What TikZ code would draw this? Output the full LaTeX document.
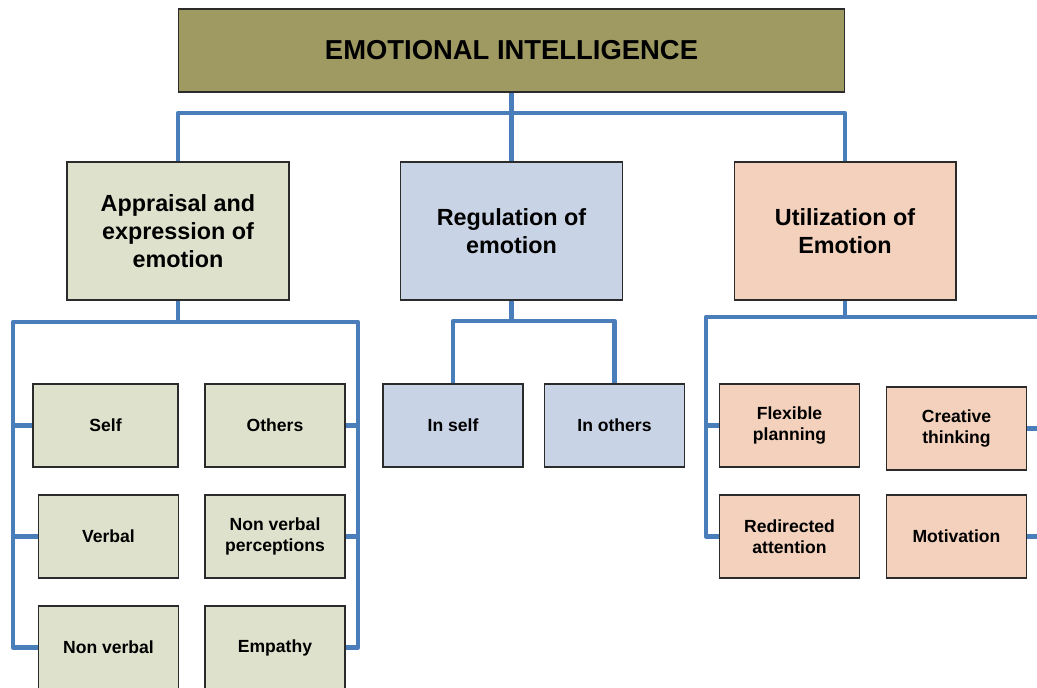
\documentclass[tikz,border=0pt]{standalone}
\usepackage{fontspec}
\setmainfont{Liberation Sans}
\usepackage{xcolor}
\definecolor{eiolive}{HTML}{9E9A62}
\definecolor{appgreen}{HTML}{DEE2CD}
\definecolor{regblue}{HTML}{C9D3E6}
\definecolor{utilpeach}{HTML}{F3D1BC}
\definecolor{linkblue}{HTML}{4A7EBB}
\definecolor{boxline}{HTML}{2B2B2B}

\tikzset{
  box/.style={draw=boxline, line width=0.6pt, align=center, inner sep=2pt},
  topbox/.style={box, fill=eiolive, minimum width=13.34cm, minimum height=1.66cm,
    font=\bfseries\fontsize{15.6}{19}\selectfont},
  mainbox/.style={box, minimum width=4.44cm, minimum height=2.76cm,
    font=\bfseries\fontsize{13.3}{16}\selectfont},
  leafbox/.style={box, minimum height=1.66cm,
    font=\bfseries\fontsize{10}{12}\selectfont},
  link/.style={linkblue, line width=2.6pt, line join=round}
}

\begin{document}
\begin{tikzpicture}[x=0.02cm, y=-0.02cm]
    \useasboundingbox (0,0) rectangle (1037,688);
    \clip (0,0) rectangle (1037,688);

    % top and second level
    \node[topbox] (ei) at (511.5,50.5) {EMOTIONAL INTELLIGENCE};
    \node[mainbox, fill=appgreen] (app) at (178,231) {Appraisal and\\expression of\\emotion};
    \node[mainbox, fill=regblue] (reg) at (511.5,231) {Regulation of\\emotion};
    \node[mainbox, fill=utilpeach] (util) at (845,231) {Utilization of\\Emotion};

    % leaves
    \foreach \name/\x/\y/\w/\col/\txt in {
        self/105.5/425.5/2.9/appgreen/{Self},
        others/275/425.5/2.8/appgreen/{Others},
        verbal/108.5/536.5/2.8/appgreen/{Verbal},
        nvperc/275/536.5/2.8/appgreen/{Non verbal\\perceptions},
        nonverbal/108.5/647.5/2.8/appgreen/{Non verbal},
        empathy/275/647.5/2.8/appgreen/{Empathy},
        inself/453/425.5/2.8/regblue/{In self},
        inothers/614.5/425.5/2.8/regblue/{In others},
        flexible/789.5/425.5/2.8/utilpeach/{Flexible\\planning},
        creative/956.5/428.5/2.8/utilpeach/{Creative\\thinking},
        redirected/789.5/536.5/2.8/utilpeach/{Redirected\\attention},
        motivation/956.5/536.5/2.8/utilpeach/{Motivation}}
        \node[leafbox, fill=\col, minimum width=\w cm] (\name) at (\x,\y) {\txt};

    % connectors
    \coordinate (topbar) at (511.5,113);
    \draw[link] (ei.south) -- (ei.south |- topbar);
    \draw[link] (app.north) |- (topbar) -| (util.north);
    \draw[link] (reg.north) -- (reg.north |- topbar);

    \coordinate (aL) at (13,322);
    \coordinate (aR) at (358,322);
    \draw[link] (app.south) -- (app.south |- aL);
    \draw[link] (nonverbal.west) -| (aL) -- (aR) |- (empathy.east);
    \draw[link] (self.west) -- (self.west -| aL);
    \draw[link] (verbal.west) -- (verbal.west -| aL);
    \draw[link] (others.east) -- (others.east -| aR);
    \draw[link] (nvperc.east) -- (nvperc.east -| aR);

    \coordinate (rBar) at (511.5,321);
    \draw[link] (reg.south) -- (reg.south |- rBar);
    \draw[link] (inself.north) |- (rBar) -| (inothers.north);

    \coordinate (uL) at (706,317);
    \coordinate (uR) at (1050,317);
    \draw[link] (util.south) -- (util.south |- uL);
    \draw[link] (redirected.west) -| (uL) -- (uR) |- (motivation.east);
    \draw[link] (flexible.west) -- (flexible.west -| uL);
    \draw[link] (creative.east) -- (creative.east -| uR);
\end{tikzpicture}
\end{document}
